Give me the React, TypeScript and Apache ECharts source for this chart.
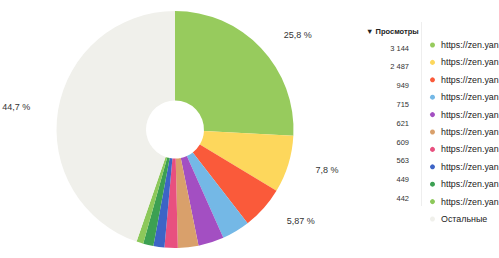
import React, { useEffect, useRef } from "react";
import * as echarts from "echarts";

const sliceNames = [
  "https://zen.yandex.ru/1",
  "https://zen.yandex.ru/2",
  "https://zen.yandex.ru/3",
  "https://zen.yandex.ru/4",
  "https://zen.yandex.ru/5",
  "https://zen.yandex.ru/6",
  "https://zen.yandex.ru/7",
  "https://zen.yandex.ru/8",
  "https://zen.yandex.ru/9",
  "https://zen.yandex.ru/10",
  "Остальные",
];
const sliceValues = [25.8, 7.8, 5.87, 3.8, 3.5, 2.8, 1.8, 1.5, 1.4, 0.93, 44.7];
const sliceLabelShown = [true, true, true, false, false, false, false, false, false, false, true];
const sliceColors = [
  "#97cb5d",
  "#fdd75c",
  "#fa5a3a",
  "#74b8e6",
  "#a34fc2",
  "#d9a06b",
  "#e8507f",
  "#3d64c6",
  "#3ca052",
  "#8cc85a",
  "#f0f0eb",
];
const legendLabels = [
  "https://zen.yan",
  "https://zen.yan",
  "https://zen.yan",
  "https://zen.yan",
  "https://zen.yan",
  "https://zen.yan",
  "https://zen.yan",
  "https://zen.yan",
  "https://zen.yan",
  "https://zen.yan",
  "Остальные",
];
// Table column
const columnTitle = "▼ Просмотры";
const viewCounts = ["3 144", "2 487", "949", "715", "621", "609", "563", "449", "442"];

export default function App() {
  const ref = useRef<HTMLDivElement>(null);

  useEffect(() => {
    if (!ref.current) return;
    const chart = echarts.init(ref.current, undefined, { renderer: "svg" });
    const font = "Liberation Sans, Arial, sans-serif";

    const data = sliceNames.map((name, i) => ({
      name,
      value: sliceValues[i],
      itemStyle: { color: sliceColors[i] },
      label: { show: sliceLabelShown[i] },
    }));

    const numberTexts = viewCounts.map((t, i) => ({
      type: "text",
      right: 499 - 409,
      top: 44 + i * 18.8,
      style: {
        text: t,
        fill: "#333",
        font: `7.5px ${font}`,
        textAlign: "right",
      },
    }));

    chart.setOption({
      animation: false,
      backgroundColor: "#fff",
      legend: {
        orient: "vertical",
        left: 425,
        top: 34,
        icon: "circle",
        itemWidth: 7,
        itemHeight: 5,
        itemGap: 5.4,
        selectedMode: false,
        data: sliceNames,
        formatter: (name: string) => legendLabels[sliceNames.indexOf(name)],
        textStyle: {
          fontFamily: font,
          fontSize: 8.9,
          lineHeight: 12,
          color: "#222",
        },
      },
      graphic: [
        {
          type: "text",
          left: 366,
          top: 27,
          style: {
            text: columnTitle,
            fill: "#222",
            font: `bold 7.5px ${font}`,
          },
        },
        ...numberTexts,
        {
          type: "line",
          shape: { x1: 421.5, y1: 22, x2: 421.5, y2: 206 },
          style: { stroke: "#eeeeee", lineWidth: 1 },
        },
      ],
      series: [
        {
          type: "pie",
          center: [175, 129.5],
          radius: [29, 118.5],
          startAngle: 90,
          clockwise: true,
          avoidLabelOverlap: false,
          label: {
            position: "outside",
            formatter: (p: any) => String(p.value).replace(".", ",") + " %",
            fontFamily: font,
            fontSize: 9,
            color: "#333",
            distanceToLabelLine: 5,
          },
          labelLine: { show: false, length: 19, length2: 4 },
          emphasis: { disabled: true },
          data,
        },
      ],
    });

    return () => chart.dispose();
  }, []);

  return (
    <div
      ref={ref}
      style={{ position: "fixed", left: 0, top: 0, width: 499, height: 258 }}
    />
  );
}
